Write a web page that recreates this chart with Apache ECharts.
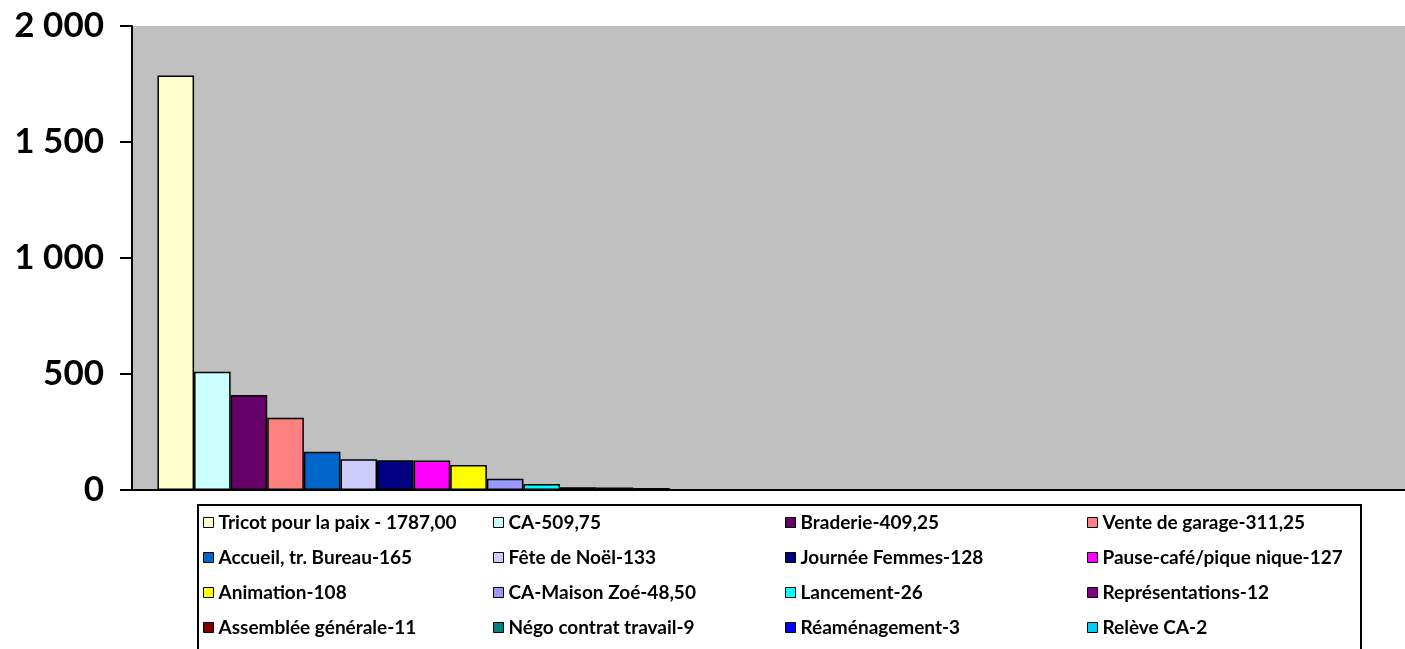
<!DOCTYPE html>
<html>
<head>
<meta charset="utf-8">
<script src="https://cdn.jsdelivr.net/npm/echarts@6/dist/echarts.min.js"></script>
<style>
  html, body { margin: 0; padding: 0; background: #fff; }
  #chart { width: 1405px; height: 649px; }
</style>
</head>
<body>
<div id="chart"></div>
<script>
// données
const categories = ['', '']
const seriesNames = [
  'Tricot pour la paix - 1787,00', 'CA-509,75', 'Braderie-409,25', 'Vente de garage-311,25',
  'Accueil, tr. Bureau-165', 'Fête de Noël-133', 'Journée Femmes-128', 'Pause-café/pique nique-127',
  'Animation-108', 'CA-Maison Zoé-48,50', 'Lancement-26', 'Représentations-12',
  'Assemblée générale-11', 'Négo contrat travail-9', 'Réaménagement-3', 'Relève CA-2'
]
const seriesValues = [1787, 509.75, 409.25, 311.25, 165, 133, 128, 127, 108, 48.5, 26, 12, 11, 9, 3, 2]
const yTicks = { min: 0, max: 2000, interval: 500 }

// couleurs (palette Excel)
const colors = [
  '#FFFFCC', '#CCFFFF', '#660066', '#FF8080',
  '#0066CC', '#CCCCFF', '#000080', '#FF00FF',
  '#FFFF00', '#9999FF', '#00FFFF', '#800080',
  '#800000', '#008080', '#0000FF', '#00CCFF'
]

const font = 'Lato, "Open Sans", sans-serif'
const chart = echarts.init(document.getElementById('chart'))

const series = seriesNames.map((name, i) => ({
  name,
  type: 'bar',
  data: [seriesValues[i], '-'],
  barGap: 0,
  barCategoryGap: '8%',
  itemStyle: { color: colors[i], borderColor: '#000', borderWidth: 1.5 }
}))

// légende : 4 colonnes
const colX = [203, 493, 785, 1087]
const legends = colX.map((x, c) => ({
  orient: 'vertical',
  left: x,
  top: 512,
  padding: 0,
  itemGap: 14,
  itemWidth: 10,
  itemHeight: 10,
  icon: 'rect',
  selectedMode: false,
  data: seriesNames.filter((_, i) => i % 4 === c).map(n => ({
    name: n,
    itemStyle: { borderColor: '#000', borderWidth: 1 }
  })),
  textStyle: { fontFamily: font, fontWeight: 'bold', fontSize: 19, lineHeight: 21, color: '#000' }
}))

chart.setOption({
  animation: false,
  textStyle: { fontFamily: font },
  grid: { left: 132, right: 0, top: 26, bottom: 159, show: true, backgroundColor: '#C0C0C0', borderWidth: 0 },
  graphic: [{
    type: 'rect',
    z: 0,
    shape: { x: 198, y: 505, width: 1163, height: 160 },
    style: { fill: '#fff', stroke: '#000', lineWidth: 2 }
  }],
  legend: legends,
  xAxis: {
    type: 'category',
    data: categories,
    axisLine: { lineStyle: { color: '#000', width: 2 } },
    axisTick: { show: false },
    axisLabel: { show: false }
  },
  yAxis: {
    type: 'value',
    min: yTicks.min,
    max: yTicks.max,
    interval: yTicks.interval,
    axisLine: { show: true, lineStyle: { color: '#000', width: 2 } },
    axisTick: { show: true, length: 12, lineStyle: { color: '#000', width: 2 } },
    splitLine: { show: false },
    axisLabel: {
      margin: 28,
      fontFamily: font,
      fontWeight: 'bold',
      fontSize: 35,
      color: '#000',
      formatter: v => String(v).replace(/\B(?=(\d{3})+(?!\d))/g, ' ')
    }
  },
  series
})
</script>
</body>
</html>
